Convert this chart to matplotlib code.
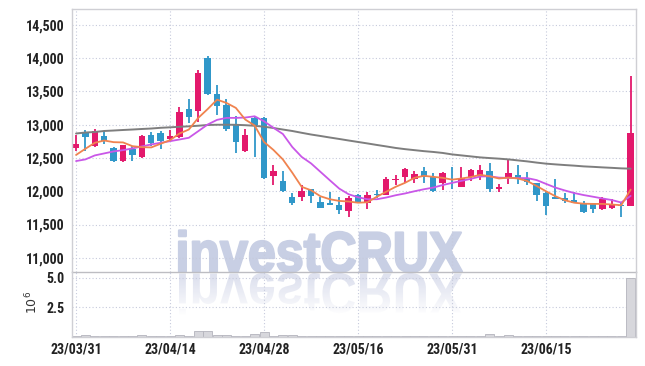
import matplotlib
matplotlib.use('Agg')
import matplotlib.pyplot as plt
import numpy as np
from matplotlib import font_manager
from matplotlib import patheffects
from matplotlib.textpath import TextPath
from matplotlib.patches import PathPatch
from matplotlib.transforms import Affine2D
from matplotlib.font_manager import FontProperties
from matplotlib.ticker import FuncFormatter

# ---------------- data ----------------
tick_labels = ['23/03/31', '23/04/14', '23/04/28', '23/05/16', '23/05/31', '23/06/15']

open_ = [12650, 12890, 12680, 12830, 12650, 12450, 12630, 12520, 12840, 12880,
         12780, 12820, 13240, 13200, 14000, 13460, 13300, 13000, 12610, 13100,
         13100, 12230, 12160, 11910, 11910, 12030, 11840, 11820, 11790, 11710,
         11940, 11820, 11960, 11950, 12170, 12210, 12190, 12300, 12220, 12120,
         12190, 12070, 12220, 12230, 12310, 12030, 12200, 12250, 12180, 12120,
         11970, 11910, 11900, 11870, 11830, 11820, 11730, 11750, 11790, 11780]
high_ = [12850, 12920, 12930, 12900, 12670, 12700, 12680, 12850, 12890, 12900,
         12920, 13270, 13390, 13830, 14040, 13600, 13380, 13130, 12940, 13120,
         13120, 12400, 12310, 11980, 12090, 12040, 11910, 11990, 11910, 11930,
         11960, 11990, 12020, 12210, 12250, 12350, 12300, 12370, 12280, 12290,
         12360, 12360, 12340, 12390, 12420, 12110, 12470, 12400, 12290, 12130,
         12000, 12180, 11980, 11990, 11850, 11830, 11910, 11890, 11830, 13730]
low_ = [12600, 12610, 12670, 12710, 12440, 12440, 12450, 12500, 12680, 12640,
        12750, 12800, 13020, 13040, 13450, 13150, 12900, 12580, 12590, 12520,
        12190, 12100, 11990, 11800, 11860, 11830, 11750, 11800, 11660, 11610,
        11820, 11730, 11900, 11940, 12100, 12130, 12130, 12120, 11990, 12020,
        12030, 12060, 12150, 12170, 11990, 11990, 12110, 12110, 12090, 11860,
        11640, 11880, 11820, 11820, 11670, 11670, 11720, 11740, 11610, 11780]
close_ = [12710, 12810, 12910, 12750, 12450, 12690, 12540, 12830, 12730, 12750,
          12830, 13190, 13120, 13780, 13460, 13280, 12930, 12740, 12850, 13000,
          12200, 12310, 12000, 11820, 12010, 11930, 11750, 11800, 11720, 11900,
          11830, 11940, 11940, 12180, 12190, 12330, 12260, 12220, 12000, 12270,
          12170, 12200, 12320, 12320, 12030, 12070, 12280, 12200, 12140, 11950,
          11780, 11890, 11850, 11830, 11690, 11740, 11880, 11800, 11780, 12880]

ma5 = [12546, 12639, 12729, 12763, 12738, 12734, 12678, 12663, 12659, 12714,
       12768, 12868, 12928, 13103, 13235, 13377, 13328, 13253, 13078, 12988,
       12741, 12621, 12479, 12280, 12067, 12015, 11925, 11880, 11855, 11846,
       11828, 11835, 11918, 11993, 12067, 12127, 12202, 12232, 12217, 12202,
       12175, 12192, 12214, 12247, 12225, 12192, 12205, 12192, 12154, 12079,
       12000, 11925, 11865, 11828, 11813, 11810, 11810, 11801, 11790, 12025]
ma20 = [12454, 12479, 12539, 12569, 12599, 12618, 12644, 12674, 12704, 12729,
        12753, 12778, 12804, 12903, 13003, 13073, 13103, 13103, 13108, 13127,
        13052, 12954, 12861, 12666, 12517, 12419, 12292, 12165, 12040, 11955,
        11910, 11880, 11880, 11906, 11940, 11967, 12000, 12030, 12055, 12093,
        12126, 12156, 12187, 12222, 12225, 12205, 12201, 12198, 12198, 12168,
        12111, 12055, 12012, 11973, 11943, 11918, 11892, 11868, 11831, 11930]
ma120 = [12868, 12883, 12891, 12906, 12913, 12921, 12928, 12936, 12943, 12954,
         12961, 12969, 12976, 12985, 12996, 13000, 13000, 12999, 12993, 12984,
         12970, 12951, 12928, 12906, 12879, 12853, 12831, 12808, 12786, 12763,
         12741, 12719, 12696, 12674, 12651, 12633, 12618, 12603, 12591, 12576,
         12554, 12539, 12524, 12509, 12499, 12490, 12479, 12464, 12449, 12431,
         12415, 12404, 12394, 12385, 12374, 12367, 12359, 12352, 12344, 12340]

volume_m = [0.06, 0.12, 0.10, 0.05, 0.05, 0.05, 0.04, 0.12, 0.06, 0.05,
            0.08, 0.15, 0.10, 0.48, 0.48, 0.14, 0.12, 0.10, 0.08, 0.22,
            0.42, 0.10, 0.12, 0.12, 0.06, 0.05, 0.05, 0.04, 0.05, 0.08,
            0.06, 0.10, 0.08, 0.10, 0.10, 0.05, 0.05, 0.06, 0.10, 0.06,
            0.05, 0.08, 0.05, 0.06, 0.22, 0.08, 0.14, 0.06, 0.05, 0.10,
            0.10, 0.10, 0.05, 0.05, 0.08, 0.05, 0.04, 0.05, 0.10, 4.97]

price_ticks = [11000, 11500, 12000, 12500, 13000, 13500, 14000, 14500]
volume_ticks = [2.5, 5.0]

# ---------------- style ----------------
UP = '#E3196C'
DOWN = '#3097C9'
C_MA5 = '#F0834F'
C_MA20 = '#C957E8'
C_MA120 = '#7E7E7E'
GRID = '#C6CADC'
FRAME = '#CFCFD4'
TXT = '#222222'

ttf = font_manager.fontManager.ttflist
names = sorted({f.name for f in ttf})


def is_bold(f):
    w = f.weight
    if isinstance(w, (int, float)):
        return w >= 600
    return str(w).lower() in ('bold', 'semibold', 'demibold', 'heavy', 'black', 'extra bold')


bold_names = {f.name for f in ttf if is_bold(f)}
cands = [nm for nm in names if ('Narrow' in nm or 'Condensed' in nm) and 'CJK' not in nm]
pref = ['Liberation Sans Narrow', 'Roboto Condensed', 'Open Sans Condensed', 'DejaVu Sans Condensed']
cands = sorted(cands, key=lambda nm: (nm not in bold_names,
                                      pref.index(nm) if nm in pref else 99))
tick_family = cands[0] if cands else ('Roboto' if 'Roboto' in names else 'DejaVu Sans')
has_bold = tick_family in bold_names
tick_effects = [] if has_bold else [patheffects.withStroke(linewidth=0.9, foreground=TXT)]

W, H = 645, 366
fig = plt.figure(figsize=(W / 100, H / 100), dpi=100)
fig.patch.set_facecolor('white')


def frac(l, t, r, b):
    return [l / W, 1 - b / H, (r - l) / W, (b - t) / H]


# background axes for watermark (pixel coordinates)
bg = fig.add_axes([0, 0, 1, 1], zorder=-5)
bg.axis('off')

fp = FontProperties(family=['Liberation Sans', 'DejaVu Sans'], weight='bold')
tp = TextPath((0, 0), 'investCRUX', size=100, prop=fp)
ext = tp.get_extents()
cap = TextPath((0, 0), 'X', size=100, prop=fp).get_extents().y1
sx = (462 - 179) / ext.width
sy = 39 / cap
WM = '#C8CFE4'
tr_main = Affine2D().translate(-ext.x0, 0).scale(sx, -sy).translate(179, 271.5) + bg.transData
bg.add_patch(PathPatch(tp, facecolor=WM, edgecolor=WM, linewidth=1.6,
                       joinstyle='round', transform=tr_main))
tr_ref = Affine2D().translate(-ext.x0, 0).scale(sx, sy).translate(179, 273.5) + bg.transData
ref_patch = PathPatch(tp, facecolor='none', edgecolor='none', transform=tr_ref)
bg.add_patch(ref_patch)
grad = np.zeros((80, 2, 4))
grad[..., 0] = 0.875
grad[..., 1] = 0.89
grad[..., 2] = 0.94
alpha = np.clip(np.linspace(1.15, -0.1, 80), 0, 1)
grad[..., 3] = alpha[:, None]
im = bg.imshow(grad, extent=(170, 470, 320, 273), origin='upper', aspect='auto',
               interpolation='bilinear')
im.set_clip_path(ref_patch)
bg.set_xlim(0, W)
bg.set_ylim(H, 0)

ax = fig.add_axes(frac(72, 9.3, 636, 272.3))
axv = fig.add_axes(frac(72, 272.3, 636, 336.7), sharex=ax)
for a in (ax, axv):
    a.set_facecolor('none')

n = len(close_)
x = np.arange(n)
o = np.array(open_, float)
c = np.array(close_, float)
hi = np.array(high_, float)
lo = np.array(low_, float)
up = c >= o
cols = np.where(up, UP, DOWN)

ax.vlines(x, lo, hi, colors=cols, linewidth=1.3, zorder=2)
body_h = np.maximum(np.abs(c - o), 16)
ax.bar(x, body_h, bottom=np.minimum(o, c), width=0.68, color=cols,
       edgecolor='none', zorder=2)

ax.plot(x, ma120, color=C_MA120, lw=1.4, zorder=3, solid_capstyle='round')
ax.plot(x, ma20, color=C_MA20, lw=1.3, zorder=3, solid_capstyle='round')
ax.plot(x, ma5, color=C_MA5, lw=1.3, zorder=3, solid_capstyle='round')

axv.bar(x, volume_m, width=0.95, color='#D7D7DC', edgecolor='#B4B4BC',
        linewidth=0.6, zorder=2)

ax.set_xlim(-0.43, 59.57)
ax.set_ylim(10782, 14735)
axv.set_ylim(0, 5.45)

ax.set_yticks(price_ticks)
ax.yaxis.set_major_formatter(FuncFormatter(lambda v, p: f'{v:,.0f}'))
axv.set_yticks(volume_ticks)
axv.set_yticklabels([f'{v:.1f}' for v in volume_ticks])
axv.set_xticks(x[::10])
axv.set_xticklabels(tick_labels)
ax.tick_params(axis='x', labelbottom=False, length=0)

for a in (ax, axv):
    a.tick_params(axis='both', length=0, colors=TXT, labelsize=10)
    a.tick_params(axis='y', pad=5.5)
    a.tick_params(axis='x', pad=4.5)
    a.grid(True, color=GRID, linestyle=(0, (1, 2)), linewidth=0.8, zorder=0)
    a.set_axisbelow(True)
    for s in a.spines.values():
        s.set_color(FRAME)
        s.set_linewidth(1.0)
    for lab in a.get_xticklabels() + a.get_yticklabels():
        lab.set_fontfamily(tick_family)
        lab.set_fontweight('bold')
        lab.set_path_effects(tick_effects)
axv.spines['top'].set_visible(False)
ax.spines['bottom'].set_color('#BDBDC2')

fig.text(32 / W, 1 - 302 / H, r'$10^{6}$', rotation=90, ha='center', va='center',
         fontsize=9, color='#333333')

fig.savefig('out.png', dpi=100, facecolor='white')
